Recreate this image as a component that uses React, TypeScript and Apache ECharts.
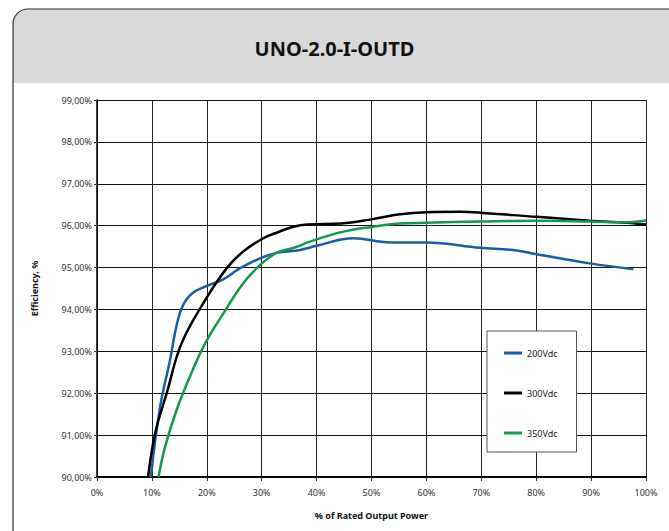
import React, { useEffect, useRef } from "react";
import * as echarts from "echarts";

const titleText = "UNO-2.0-I-OUTD";
const xAxisName = "% of Rated Output Power";
const yAxisName = "Efficiency, %";
const seriesNames = ["200Vdc", "300Vdc", "350Vdc"];
const seriesColors = ["#1a5ca8", "#000000", "#119a4a"];

const s200: [number, number][] = [
  [9.8, 90.0], [11.5, 91.68], [13.3, 92.79], [14.5, 93.62], [15.6, 94.08], [17.3, 94.38],
  [20.0, 94.56], [23.0, 94.72], [26.0, 94.98], [29.7, 95.22], [32.7, 95.35], [37.0, 95.42],
  [40.0, 95.52], [46.7, 95.7], [53.4, 95.6], [60.0, 95.6], [69.8, 95.47], [75.8, 95.42],
  [80.1, 95.32], [89.8, 95.1], [97.7, 94.96],
];
const s300: [number, number][] = [
  [9.3, 90.0], [10.6, 91.05], [12.7, 92.0], [15.4, 93.19], [19.7, 94.22], [23.6, 94.98],
  [26.6, 95.38], [30.3, 95.7], [33.3, 95.86], [35.6, 95.97], [38.3, 96.03], [44.5, 96.05],
  [50.0, 96.15], [55.2, 96.27], [60.0, 96.32], [66.1, 96.33], [69.8, 96.31], [80.1, 96.21],
  [89.8, 96.12], [96.5, 96.07], [100, 96.03],
];
const s350: [number, number][] = [
  [11.2, 90.0], [12.4, 90.72], [14.5, 91.6], [16.9, 92.39], [19.7, 93.19], [23.0, 93.9],
  [26.6, 94.62], [29.7, 95.06], [32.7, 95.35], [36.0, 95.48], [38.8, 95.62], [44.3, 95.84],
  [50.0, 95.97], [55.2, 96.05], [60.0, 96.07], [69.8, 96.1], [80.1, 96.12], [89.8, 96.1],
  [96.5, 96.08], [100, 96.13],
];
const seriesData = [s200, s300, s350];

const FONT = "'Noto Sans', 'Open Sans', sans-serif";

export default function App() {
  const ref = useRef<HTMLDivElement>(null);
  useEffect(() => {
    if (!ref.current) return;
    const chart = echarts.init(ref.current, undefined, { renderer: "svg" });
    chart.setOption({
      animation: false,
      backgroundColor: "#ffffff",
      textStyle: { fontFamily: FONT },
      title: {
        text: titleText,
        left: "center",
        top: 33,
        textStyle: { fontSize: 20, fontWeight: "bold", color: "#111", fontFamily: FONT },
        z: 10,
      },
      graphic: [
        {
          type: "rect",
          z: 0,
          shape: { x: 13, y: 9, width: 720, height: 74, r: [15, 15, 0, 0] },
          style: { fill: "#d9d9d9" },
        },
        {
          type: "rect",
          z: 1,
          shape: { x: 13, y: 9, width: 720, height: 620, r: 15 },
          style: { fill: "none", stroke: "#333", lineWidth: 1.2 },
        },
      ],
      grid: { left: 97, right: 23, top: 100, bottom: 54, containLabel: false },
      legend: {
        orient: "vertical",
        left: 487,
        top: 331,
        padding: [16, 19, 13, 17],
        itemGap: 28,
        itemWidth: 18,
        itemHeight: 3,
        icon: "rect",
        backgroundColor: "#fff",
        borderColor: "#555",
        borderWidth: 1,
        borderRadius: 0,
        textStyle: { fontSize: 9, color: "#222", fontFamily: FONT, lineHeight: 12 },
        data: seriesNames,
      },
      xAxis: {
        type: "value",
        min: 0,
        max: 100,
        interval: 10,
        name: xAxisName,
        nameLocation: "middle",
        nameGap: 34,
        nameTextStyle: { fontSize: 9, fontWeight: "bold", color: "#111", fontFamily: FONT },
        axisLine: { show: true, lineStyle: { color: "#000", width: 2 } },
        axisTick: { show: true, length: 4, lineStyle: { color: "#333" } },
        axisLabel: { margin: 11, fontSize: 9, color: "#333", formatter: (v: number) => `${v}%` },
        splitLine: { show: true, lineStyle: { color: "#222", width: 1 } },
      },
      yAxis: {
        type: "value",
        min: 90,
        max: 99,
        interval: 1,
        name: yAxisName,
        nameLocation: "middle",
        nameGap: 58,
        nameRotate: 90,
        nameTextStyle: { fontSize: 9, fontWeight: "bold", color: "#111", fontFamily: FONT },
        axisLine: { show: true, lineStyle: { color: "#000", width: 1.5 } },
        axisTick: { show: true, length: 3, lineStyle: { color: "#333" } },
        axisLabel: {
          margin: 5,
          fontSize: 9,
          color: "#333",
          formatter: (v: number) => `${v.toFixed(2).replace(".", ",")}%`,
        },
        splitLine: { show: true, lineStyle: { color: "#111", width: 1 } },
      },
      series: seriesNames.map((n, i) => ({
        name: n,
        type: "line",
        data: seriesData[i],
        smooth: 0.4,
        symbol: "none",
        clip: true,
        lineStyle: { color: seriesColors[i], width: 2.5 },
        itemStyle: { color: seriesColors[i] },
      })),
    });
    return () => chart.dispose();
  }, []);
  return (
    <div
      ref={ref}
      style={{ position: "fixed", left: 0, top: 0, width: 669, height: 531 }}
    />
  );
}
